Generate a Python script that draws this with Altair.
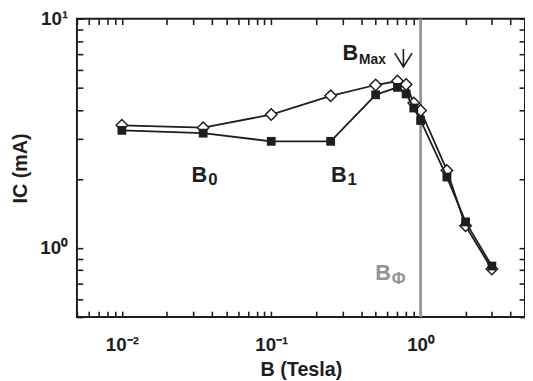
import altair as alt
import pandas as pd

# field values (Tesla) and critical currents (mA)
b_field = [0.01, 0.035, 0.1, 0.25, 0.5, 0.7, 0.8, 0.9, 1.0, 1.5, 2.0, 3.0]
ic_open = [3.43, 3.35, 3.82, 4.61, 5.14, 5.35, 5.17, 4.29, 3.98, 2.18, 1.25, 0.81]
ic_filled = [3.26, 3.17, 2.92, 2.92, 4.66, 5.02, 4.70, 4.08, 3.60, 2.04, 1.30, 0.835]

# axis ticks
x_ticks = [0.005, 0.006, 0.007, 0.008, 0.009,
           0.01, 0.02, 0.03, 0.04, 0.05, 0.06, 0.07, 0.08, 0.09,
           0.1, 0.2, 0.3, 0.4, 0.5, 0.6, 0.7, 0.8, 0.9,
           1, 2, 3, 4, 5]
y_ticks = [0.5, 0.6, 0.7, 0.8, 0.9, 1, 2, 3, 4, 5, 6, 7, 8, 9, 10]

# annotations (data coordinates)
ann_main = ["B", "B", "B", "B"]
ann_sub = ["0", "1", "Max", "\u03a6"]
ann_x = [0.0293, 0.251, 0.300, 0.497]
ann_y = [1.945, 1.945, 6.585, 0.724]
phi_line_x = [1.0]
arrow_x = [0.767]
arrow_y = [6.745]

FONT = "Liberation Sans"
INK = "#1e1e1e"
GRAY = "#939393"

df_open = pd.DataFrame({"B": b_field, "Ic": ic_open})
df_fill = pd.DataFrame({"B": b_field, "Ic": ic_filled})
df_ann = pd.DataFrame({"main": ann_main, "sub": ann_sub, "x": ann_x, "y": ann_y})
df_rule = pd.DataFrame({"x": phi_line_x})
df_arrow = pd.DataFrame({"x": arrow_x, "y": arrow_y})

xs = alt.Scale(type="log", domain=[0.005, 5], nice=False)
ys = alt.Scale(type="log", domain=[0.5, 10], nice=False)

x_label_expr = ("datum.value === 0.01 ? '10\u207b\u00b2' : datum.value === 0.1 ? '10\u207b\u00b9' : "
                "datum.value === 1 ? '10\u2070' : ''")
y_label_expr = "datum.value === 1 ? '10\u2070' : datum.value === 10 ? '10\u00b9' : ''"

common_axis = dict(tickSize=6, offset=-6, domain=False, grid=False, tickColor=INK,
                   tickWidth=1.6, labelFont=FONT, labelFontSize=19, labelFontWeight="bold",
                   labelColor=INK, labelOverlap=False, labelFlush=False, labelBound=False,
                   titleFont=FONT, titleFontSize=20, titleFontWeight="bold", titleColor=INK)

x_bottom = alt.Axis(orient="bottom", values=x_ticks, labelExpr=x_label_expr,
                    labelPadding=19, title="B (Tesla)", titlePadding=5.5, **common_axis)
y_left = alt.Axis(orient="left", values=y_ticks, labelExpr=y_label_expr,
                  labelPadding=9.4, title="IC (mA)", titlePadding=10, **common_axis)
x_top = alt.Axis(orient="top", values=x_ticks, labels=False, title=None, tickSize=6,
                 offset=-6, domain=False, grid=False, tickColor=INK, tickWidth=1.6)
y_right = alt.Axis(orient="right", values=y_ticks, labels=False, title=None, tickSize=6,
                   offset=-6, domain=False, grid=False, tickColor=INK, tickWidth=1.6)

rule = alt.Chart(df_rule).mark_rule(color=GRAY, strokeWidth=2.7).encode(
    x=alt.X("x:Q", scale=xs, axis=None))

line_open = alt.Chart(df_open).mark_line(color=INK, strokeWidth=1.8).encode(
    x=alt.X("B:Q", scale=xs, axis=x_bottom),
    y=alt.Y("Ic:Q", scale=ys, axis=y_left))
pts_open = alt.Chart(df_open).mark_point(shape="diamond", size=135, filled=True, fill="white",
                                          stroke=INK, strokeWidth=1.5, opacity=1).encode(
    x=alt.X("B:Q", scale=xs, axis=None),
    y=alt.Y("Ic:Q", scale=ys, axis=None))
line_fill = alt.Chart(df_fill).mark_line(color=INK, strokeWidth=1.8).encode(
    x=alt.X("B:Q", scale=xs, axis=None),
    y=alt.Y("Ic:Q", scale=ys, axis=None))
pts_fill = alt.Chart(df_fill).mark_point(shape="square", size=80, filled=True, color=INK,
                                          opacity=1).encode(
    x=alt.X("B:Q", scale=xs, axis=x_top),
    y=alt.Y("Ic:Q", scale=ys, axis=y_right))

color_rule = alt.condition(alt.datum.sub == "\u03a6", alt.value(GRAY), alt.value(INK))

txt_main = alt.Chart(df_ann).mark_text(font=FONT, fontSize=22, fontWeight="bold",
                                       align="left", baseline="alphabetic").encode(
    x=alt.X("x:Q", scale=xs, axis=None),
    y=alt.Y("y:Q", scale=ys, axis=None),
    text="main:N", color=color_rule)
txt_sub = alt.Chart(df_ann).mark_text(font=FONT, fontWeight="bold", align="left",
                                      baseline="alphabetic", dx=16.8, dy=3.5).encode(
    x=alt.X("x:Q", scale=xs, axis=None),
    y=alt.Y("y:Q", scale=ys, axis=None),
    text="sub:N", color=color_rule,
    size=alt.condition(alt.datum.sub == "Max", alt.value(14), alt.value(17)))

arrow = alt.Chart(df_arrow).mark_point(
    shape="M0,-1L0,1M-0.96,-0.53L0,1L0.96,-0.53", size=335, filled=False,
    stroke=INK, strokeWidth=1.6, opacity=1).encode(
    x=alt.X("x:Q", scale=xs, axis=None),
    y=alt.Y("y:Q", scale=ys, axis=None))

chart = alt.layer(rule, line_open, pts_open, line_fill, pts_fill, txt_main, txt_sub, arrow).properties(
    width=455, height=303,
    padding={"left": 70, "top": 8, "right": 0, "bottom": 62},
    autosize=alt.AutoSizeParams(type="none"),
).resolve_axis(x="independent", y="independent").configure_view(stroke=INK, strokeWidth=2)

chart.save("out.html", embed_options={"renderer": "svg", "actions": False})
